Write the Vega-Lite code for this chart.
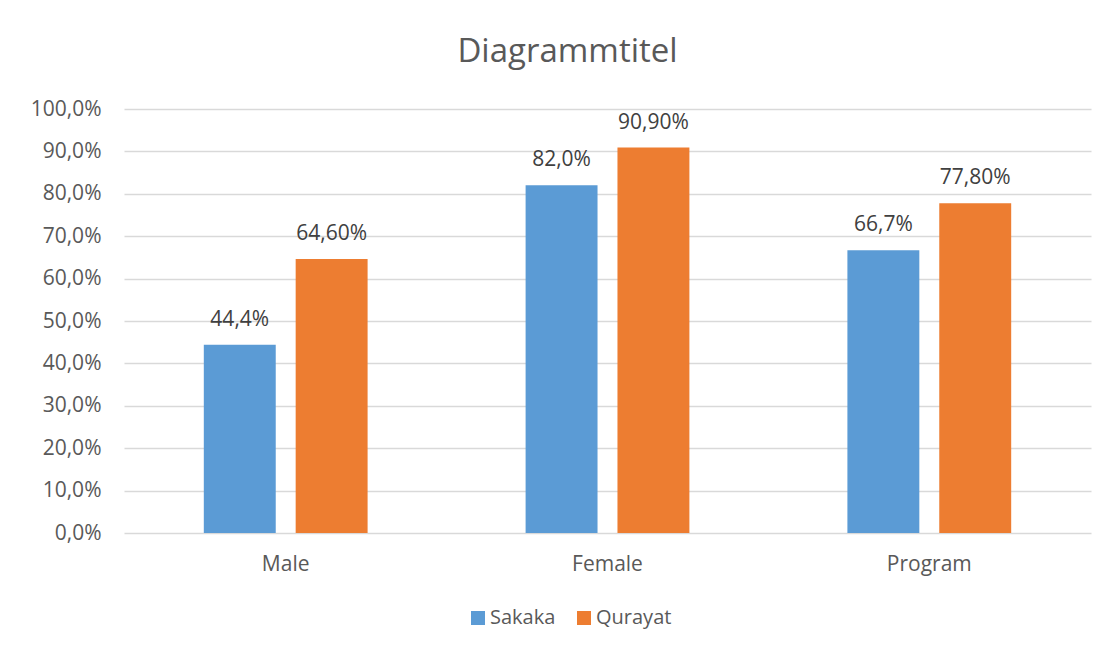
{
  "$schema": "https://vega.github.io/schema/vega-lite/v6.json",
  "width": 967,
  "height": 424,
  "autosize": {"type": "none"},
  "padding": {"left": 124, "top": 109, "right": 19, "bottom": 114},
  "background": "white",
  "config": {"view": {"stroke": null}, "font": "Open Sans"},
  "title": {
    "text": "Diagrammtitel",
    "fontSize": 33,
    "font": "Open Sans",
    "fontWeight": "normal",
    "color": "#595959",
    "anchor": "middle",
    "dx": -40,
    "offset": 29
  },
  "data": {
    "values": [
      {"category": "Male", "series": "Sakaka", "value": 0.444},
      {"category": "Male", "series": "Qurayat", "value": 0.646},
      {"category": "Female", "series": "Sakaka", "value": 0.82},
      {"category": "Female", "series": "Qurayat", "value": 0.909},
      {"category": "Program", "series": "Sakaka", "value": 0.667},
      {"category": "Program", "series": "Qurayat", "value": 0.778}
    ]
  },
  "transform": [
    {"calculate": "datum.series == 'Sakaka' ? replace(format(datum.value, '.1%'), '.', ',') : replace(format(datum.value, '.2%'), '.', ',')", "as": "label"}
  ],
  "encoding": {
    "x": {
      "field": "category",
      "type": "nominal",
      "sort": ["Male", "Female", "Program"],
      "scale": {"paddingInner": 0.491, "paddingOuter": 0.248},
      "axis": {
        "title": null,
        "labelAngle": 0,
        "domain": false,
        "ticks": false,
        "labelPadding": 20,
        "labelFontSize": 21,
        "labelFont": "Open Sans",
        "labelColor": "#595959"
      }
    },
    "xOffset": {
      "field": "series",
      "sort": ["Sakaka", "Qurayat"],
      "scale": {"paddingInner": 0.217, "paddingOuter": 0}
    },
    "y": {
      "field": "value",
      "type": "quantitative",
      "scale": {"domain": [0, 1], "nice": false},
      "axis": {
        "title": null,
        "values": [0, 0.1, 0.2, 0.3, 0.4, 0.5, 0.6, 0.7, 0.8, 0.9, 1],
        "labelExpr": "replace(format(datum.value, '.1%'), '.', ',')",
        "domain": false,
        "ticks": false,
        "grid": true,
        "gridColor": "#d9d9d9",
        "gridWidth": 1.3,
        "labelPadding": 23,
        "labelFontSize": 21,
        "labelFont": "Open Sans",
        "labelColor": "#595959"
      }
    }
  },
  "layer": [
    {
      "mark": {"type": "bar"},
      "encoding": {
        "color": {
          "field": "series",
          "type": "nominal",
          "sort": ["Sakaka", "Qurayat"],
          "scale": {"domain": ["Sakaka", "Qurayat"], "range": ["#5B9BD5", "#ED7D31"]},
          "legend": {
            "title": null,
            "orient": "none",
            "legendX": 344,
            "legendY": 499,
            "direction": "horizontal",
            "symbolType": "square",
            "symbolSize": 196,
            "symbolStrokeWidth": 0,
            "labelFontSize": 20,
            "labelFont": "Open Sans",
            "labelColor": "#595959",
            "labelOffset": 2,
            "columnPadding": 18
          }
        }
      }
    },
    {
      "mark": {"type": "text", "baseline": "alphabetic", "dy": -19, "fontSize": 21, "font": "Open Sans", "color": "#404040"},
      "encoding": {"text": {"field": "label"}}
    }
  ]
}
